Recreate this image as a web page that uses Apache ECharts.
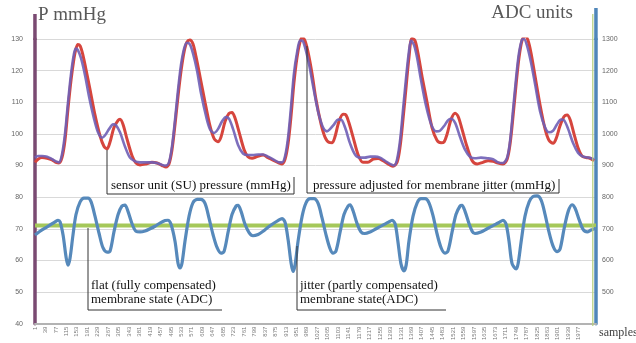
<!DOCTYPE html>
<html>
<head>
<meta charset="utf-8">
<script src="https://cdn.jsdelivr.net/npm/echarts@6/dist/echarts.min.js"></script>
<style>
  html, body { margin: 0; padding: 0; background: #fff; }
  #chart { width: 636px; height: 343px; }
</style>
</head>
<body>
<div id="chart"></div>
<script>
// x-axis tick labels (sample numbers)
var xTicks = [1, 39, 77, 115, 153, 191, 229, 267, 305, 343, 381, 419, 457, 495, 533, 571, 609, 647, 685, 723,
  761, 799, 837, 875, 913, 951, 989, 1027, 1065, 1103, 1141, 1179, 1217, 1255, 1293, 1331, 1369, 1407, 1445,
  1483, 1521, 1559, 1597, 1635, 1673, 1711, 1749, 1787, 1825, 1863, 1901, 1939, 1977];

// sensor unit (SU) pressure, mmHg  (red)
var suSamples = [1, 12, 26, 45, 63, 77, 88, 99, 110, 121, 132, 143, 150, 157, 165, 175, 186, 201, 219, 237, 252, 263,
  274, 288, 303, 310, 321, 335, 354, 368, 383, 404, 426, 444, 463, 477, 488, 499, 510, 521, 532, 543, 553, 564,
  575, 586, 601, 619, 637, 652, 666, 677, 692, 706, 717, 728, 743, 761, 775, 790, 808, 830, 848, 870, 888, 899,
  910, 921, 932, 942, 953, 964, 972, 982, 993, 1008, 1022, 1041, 1055, 1070, 1081, 1091, 1106, 1121, 1131, 1142,
  1157, 1175, 1193, 1211, 1230, 1248, 1266, 1284, 1302, 1317, 1328, 1339, 1350, 1360, 1371, 1382, 1393, 1408,
  1426, 1444, 1462, 1477, 1488, 1499, 1513, 1528, 1539, 1553, 1571, 1590, 1608, 1629, 1648, 1666, 1684, 1702,
  1717, 1728, 1739, 1750, 1760, 1771, 1782, 1793, 1804, 1819, 1837, 1855, 1869, 1884, 1895, 1909, 1924, 1935,
  1946, 1960, 1975, 1989, 2004, 2018, 2033];
var suValues = [91.0, 92.0, 92.5, 92.3, 91.8, 91.0, 90.8, 92.5, 98, 108, 117, 124, 127, 128.3, 127.8, 125, 120.5, 114,
  106, 99.5, 96, 95.3, 97.5, 102, 104.3, 104.6, 103, 98.5, 93, 90.8, 90.2, 90.5, 91, 90.8, 90, 89.5, 90.5, 95, 103,
  112, 120, 126, 129, 129.7, 128.5, 124.5, 118, 110, 102.5, 98.5, 97.5, 99, 104, 106.5, 106.8, 105, 100.5, 95, 92.8,
  92.3, 92.8, 93.3, 92.5, 91.5, 90.8, 90.5, 92, 97, 106, 116, 124, 129, 130.5, 129.5, 126, 119, 111, 103, 99, 97.3,
  97.2, 99, 104, 106.2, 106, 103.5, 99, 93.5, 91, 91, 92, 92.2, 91.5, 90.5, 89.8, 91, 96, 105, 115, 124, 130.2,
  129.5, 125.5, 118, 110, 102, 98, 97.2, 97.5, 100, 104.5, 106.5, 105.5, 101.5, 96, 91.5, 90.5, 91, 91.5, 91.3,
  90.8, 90.5, 92, 97, 106, 116, 124, 129.5, 131, 129.5, 125.5, 118, 109, 101.5, 98, 97, 98.5, 102.5, 105.5, 106,
  104.5, 100, 95.5, 93, 92.5, 92.3, 91.5];

// pressure adjusted for membrane jitter, mmHg  (purple)
var adjSamples = [1, 12, 26, 45, 63, 77, 88, 99, 110, 121, 132, 143, 150, 157, 168, 183, 197, 215, 230, 245, 255, 270,
  285, 295, 310, 328, 346, 365, 383, 404, 426, 444, 463, 477, 488, 499, 510, 521, 532, 543, 553, 564, 575, 590,
  604, 623, 637, 652, 666, 681, 695, 706, 721, 739, 757, 775, 793, 812, 830, 848, 870, 888, 899, 910, 921, 932,
  942, 953, 964, 972, 982, 997, 1012, 1030, 1048, 1062, 1073, 1088, 1102, 1113, 1128, 1146, 1164, 1182, 1200,
  1219, 1237, 1255, 1273, 1291, 1306, 1317, 1328, 1339, 1350, 1360, 1368, 1379, 1390, 1404, 1422, 1441, 1459,
  1473, 1488, 1502, 1513, 1528, 1546, 1564, 1582, 1600, 1622, 1644, 1666, 1684, 1702, 1717, 1728, 1739, 1750,
  1760, 1771, 1778, 1789, 1804, 1819, 1837, 1855, 1869, 1884, 1898, 1913, 1924, 1939, 1957, 1975, 1993, 2011, 2033];
var adjValues = [92.5, 93, 93, 92.8, 92, 91.3, 91, 93.5, 100, 110, 119, 125.5, 127, 126.5, 124, 118.5, 112, 105, 100.5,
  98.8, 99.5, 101.5, 103, 102.8, 100.5, 96, 92.5, 91.3, 91, 91, 91, 90.8, 90.2, 90, 91, 96, 104.5, 114, 122, 127,
  128.8, 128.3, 125.5, 120, 113, 105.5, 101.5, 100.3, 101.5, 104, 105.3, 104.8, 101.5, 96.5, 93.8, 93.3, 93.3, 93.5,
  93.5, 92.8, 91.8, 91, 91, 93, 99, 109, 119, 125.5, 129.5, 129.5, 127.5, 122, 115, 107, 102, 100.8, 101.5, 103,
  104.5, 104.5, 102, 97, 93.5, 92.5, 92.5, 92.8, 92.8, 92.5, 91.5, 90.5, 90, 92, 98, 108, 118, 126, 129.5, 128, 124,
  117, 109, 103, 100.8, 101, 102.5, 104.3, 104.8, 103.5, 99, 95, 92.8, 92.3, 92.5, 92.3, 92, 91, 90.8, 92.5, 98, 108,
  118, 125.5, 129.8, 130, 128, 122.5, 115.5, 107, 102, 100.5, 101, 103, 104.5, 104.3, 101.5, 97, 94, 92.8, 92.5, 92];

// membrane state, ADC units (blue, right axis)
var adcSamples = [1, 19, 37, 56, 74, 85, 92, 103, 114, 121, 128, 139, 150, 165, 179, 194, 205, 219, 234, 248, 263, 274,
  288, 303, 317, 328, 339, 354, 368, 383, 401, 419, 437, 455, 474, 484, 495, 510, 521, 528, 535, 546, 561, 575,
  590, 604, 619, 633, 648, 663, 677, 688, 703, 717, 732, 739, 750, 764, 779, 793, 812, 830, 848, 866, 884, 899,
  910, 921, 932, 939, 946, 957, 972, 986, 1001, 1015, 1030, 1044, 1059, 1073, 1084, 1095, 1110, 1124, 1139, 1146,
  1157, 1171, 1186, 1200, 1219, 1241, 1262, 1284, 1299, 1310, 1320, 1331, 1342, 1350, 1360, 1375, 1390, 1404,
  1419, 1433, 1448, 1462, 1477, 1491, 1502, 1517, 1531, 1546, 1553, 1564, 1579, 1590, 1600, 1622, 1644, 1666,
  1688, 1702, 1713, 1724, 1735, 1750, 1757, 1768, 1782, 1797, 1811, 1826, 1841, 1855, 1869, 1884, 1898, 1909,
  1924, 1939, 1953, 1964, 1979, 1993, 2008, 2022, 2040];
var adcValues = [680, 692, 702, 712, 722, 727, 722, 680, 610, 585, 605, 680, 745, 785, 797, 797, 785, 740, 685, 640, 626,
  630, 690, 745, 772, 775, 755, 715, 692, 690, 693, 700, 708, 718, 726, 727, 715, 660, 590, 576, 590, 660, 740, 782,
  793, 793, 780, 735, 682, 640, 623, 628, 690, 745, 772, 774, 755, 715, 688, 678, 682, 692, 705, 716, 726, 732, 720,
  665, 590, 565, 585, 660, 740, 782, 795, 795, 780, 735, 680, 638, 623, 630, 690, 745, 772, 776, 757, 718, 690, 685,
  690, 700, 710, 720, 727, 715, 660, 590, 567, 585, 660, 740, 782, 795, 795, 782, 740, 685, 640, 623, 630, 690, 745,
  772, 774, 755, 715, 692, 685, 690, 700, 710, 720, 727, 715, 660, 590, 573, 590, 660, 740, 785, 802, 804, 790, 745,
  690, 645, 628, 635, 700, 755, 776, 765, 728, 698, 690, 696, 702];

// flat (fully compensated) membrane state, ADC units (green)
var flatSamples = [1, 2040];
var flatValues = [710, 710];

function pairs(xs, ys) {
    var out = [];
    for (var i = 0; i < xs.length; i++) out.push([xs[i], ys[i]]);
    return out;
}
function plain(v) { return String(v); }

var serif = '"Liberation Serif", "DejaVu Serif", serif';
var chart = echarts.init(document.getElementById('chart'));

var option = {
    animation: false,
    grid: { left: 35, right: 40, top: 39, bottom: 17 },
    xAxis: {
        type: 'value',
        min: 1,
        max: 2040,
        axisLine: { lineStyle: { color: '#b3b3b3', width: 2 } },
        axisTick: { show: false },
        splitLine: { show: false },
        axisLabel: {
            customValues: xTicks,
            formatter: plain,
            rotate: 90,
            fontSize: 6,
            color: '#7a7a7a',
            margin: 3
        }
    },
    yAxis: [
        {
            type: 'value',
            min: 40,
            max: 130,
            interval: 10,
            axisLine: { show: true, lineStyle: { color: '#7a4a72', width: 3.5 } },
            axisTick: { show: false },
            axisLabel: { fontSize: 7, color: '#666', margin: 12, formatter: plain },
            splitLine: { lineStyle: { color: '#d9d9d9', width: 1 } }
        },
        {
            type: 'value',
            position: 'right',
            min: 400,
            max: 1300,
            interval: 100,
            axisLine: { show: true, lineStyle: { color: '#4f86b9', width: 3.5 } },
            axisTick: { show: false },
            axisLabel: { fontSize: 7, color: '#666', margin: 6, showMinLabel: false, formatter: plain },
            splitLine: { show: false }
        }
    ],
    series: [
        {
            name: 'flat', type: 'line', yAxisIndex: 1, showSymbol: false,
            data: pairs(flatSamples, flatValues),
            lineStyle: { color: '#a5c85a', width: 4 }, z: 2
        },
        {
            name: 'SU', type: 'line', yAxisIndex: 0, showSymbol: false, smooth: 0.3,
            data: pairs(suSamples, suValues),
            lineStyle: { color: '#d6453d', width: 3 }, z: 3
        },
        {
            name: 'adjusted', type: 'line', yAxisIndex: 0, showSymbol: false, smooth: 0.3,
            data: pairs(adjSamples, adjValues),
            lineStyle: { color: '#6f5fb6', width: 2.6, opacity: 0.9 }, z: 4
        },
        {
            name: 'ADC', type: 'line', yAxisIndex: 1, showSymbol: false, smooth: 0.3,
            data: pairs(adcSamples, adcValues),
            lineStyle: { color: '#5689bb', width: 3.2 }, z: 5
        }
    ],
    graphic: [
        // axis line extensions above the plot
        { type: 'rect', shape: { x: 33.2, y: 14, width: 3.5, height: 26 }, style: { fill: '#7a4a72' }, z: 10 },
        { type: 'rect', shape: { x: 594.2, y: 8, width: 3.5, height: 32 }, style: { fill: '#4f86b9' }, z: 10 },
        { type: 'line', shape: { x1: 592.8, y1: 14, x2: 592.8, y2: 326 }, style: { stroke: '#b5cf7a', lineWidth: 1.2 }, z: 9 },
        // titles
        { type: 'text', left: 38, top: 6, style: { text: 'P mmHg', font: '19px ' + serif, fill: '#595959' } },
        { type: 'text', right: 63, top: 4, style: { text: 'ADC units', font: '19px ' + serif, fill: '#595959' } },
        { type: 'text', left: 599, top: 327, style: { text: 'samples', font: '12px ' + serif, fill: '#404040' } },
        // callouts
        { type: 'polyline', shape: { points: [[107, 150], [107, 194], [294, 194], [294, 177]] },
          style: { stroke: '#333', lineWidth: 1, fill: null }, z: 20 },
        { type: 'text', x: 111, y: 186, style: { text: 'sensor unit (SU) pressure (mmHg)', font: '13px ' + serif,
          fill: '#111', verticalAlign: 'middle' }, z: 20 },
        { type: 'polyline', shape: { points: [[307, 46], [307, 193], [559, 193], [559, 179]] },
          style: { stroke: '#333', lineWidth: 1, fill: null }, z: 20 },
        { type: 'text', x: 313, y: 186, style: { text: 'pressure adjusted for membrane jitter (mmHg)', font: '13px ' + serif,
          fill: '#111', verticalAlign: 'middle' }, z: 20 },
        { type: 'polyline', shape: { points: [[88, 228], [88, 310], [222, 310]] },
          style: { stroke: '#333', lineWidth: 1, fill: null }, z: 20 },
        { type: 'text', x: 91, y: 286, style: { text: 'flat (fully compensated)', font: '13px ' + serif,
          fill: '#111', verticalAlign: 'middle' }, z: 20 },
        { type: 'text', x: 91, y: 300, style: { text: 'membrane state (ADC)', font: '13px ' + serif,
          fill: '#111', verticalAlign: 'middle' }, z: 20 },
        { type: 'polyline', shape: { points: [[297, 246], [297, 310], [446, 310]] },
          style: { stroke: '#333', lineWidth: 1, fill: null }, z: 20 },
        { type: 'text', x: 300, y: 286, style: { text: 'jitter (partly compensated)', font: '13px ' + serif,
          fill: '#111', verticalAlign: 'middle' }, z: 20 },
        { type: 'text', x: 300, y: 300, style: { text: 'membrane state(ADC)', font: '13px ' + serif,
          fill: '#111', verticalAlign: 'middle' }, z: 20 }
    ]
};

chart.setOption(option);
</script>
</body>
</html>
